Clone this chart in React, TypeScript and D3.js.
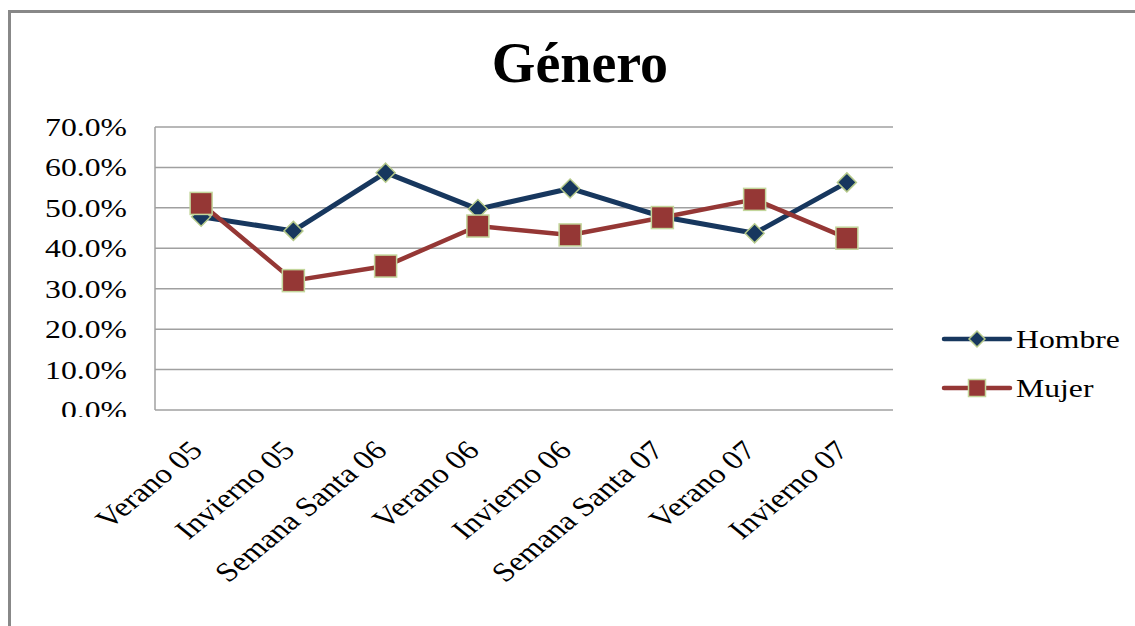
import React, { useEffect, useRef } from 'react';
import * as d3 from 'd3';

const categories = [
  'Verano 05', 'Invierno 05', 'Semana Santa 06', 'Verano 06',
  'Invierno 06', 'Semana Santa 07', 'Verano 07', 'Invierno 07'
];
const hombre = [47.8, 44.3, 58.7, 49.7, 54.8, 47.8, 43.7, 56.3];
const mujer = [51.1, 32.0, 35.6, 45.5, 43.3, 47.6, 52.1, 42.5];
const yTicks = [0, 10, 20, 30, 40, 50, 60, 70];

const HOMBRE_COLOR = '#17375e';
const MUJER_COLOR = '#953735';
const FONT = '"Liberation Serif", "Times New Roman", serif';

const App: React.FC = () => {
  const svgRef = useRef<SVGSVGElement>(null);
  const width = 1135;
  const height = 626;

  useEffect(() => {
    if (!svgRef.current) return;
    const svg = d3.select(svgRef.current);
    svg.selectAll('*').remove();

    const left = 155, right = 893, top = 127, bottom = 410;
    const sx = 1.22; // the original is stretched horizontally

    svg.append('rect').attr('width', width).attr('height', height).attr('fill', '#fff');
    // outer border (left and top visible)
    svg.append('rect')
      .attr('x', 9.5).attr('y', 11.5)
      .attr('width', width + 20).attr('height', height + 20)
      .attr('fill', 'none').attr('stroke', '#888').attr('stroke-width', 3);

    // title
    svg.append('text')
      .attr('x', 580).attr('y', 82)
      .attr('text-anchor', 'middle')
      .attr('font-family', FONT).attr('font-weight', 'bold').attr('font-size', 56)
      .text('Género');

    const x = d3.scaleBand().domain(categories).range([left, right]);
    const y = d3.scaleLinear().domain([0, 70]).range([bottom, top]);
    const cx = (c: string) => (x(c) || 0) + x.bandwidth() / 2;

    // gridlines
    svg.append('g').selectAll('line').data(yTicks).enter().append('line')
      .attr('x1', left).attr('x2', right)
      .attr('y1', d => y(d)).attr('y2', d => y(d))
      .attr('stroke', '#a0a0a0').attr('stroke-width', 1.5);
    svg.append('line')
      .attr('x1', left).attr('x2', left).attr('y1', top).attr('y2', bottom)
      .attr('stroke', '#a0a0a0').attr('stroke-width', 1.5);

    // y labels (0.0% is clipped at the bottom)
    svg.append('clipPath').attr('id', 'yclip')
      .append('rect').attr('x', 0).attr('y', 0).attr('width', 150).attr('height', 417);
    svg.append('g').attr('clip-path', 'url(#yclip)')
      .selectAll('text').data(yTicks).enter().append('text')
      .attr('transform', d => `translate(127,${y(d) + 9}) scale(${sx},1)`)
      .attr('text-anchor', 'end')
      .attr('font-family', FONT).attr('font-size', 26)
      .text(d => d.toFixed(1) + '%');

    // x labels, rotated
    svg.append('g').selectAll('text').data(categories).enter().append('text')
      .attr('transform', d => `translate(${cx(d) + 3},452) scale(${sx},1) rotate(-45)`)
      .attr('text-anchor', 'end')
      .attr('font-family', FONT).attr('font-size', 27)
      .text(d => d);

    const series = [
      { name: 'Hombre', values: hombre, color: HOMBRE_COLOR, marker: 'diamond' },
      { name: 'Mujer', values: mujer, color: MUJER_COLOR, marker: 'square' }
    ];

    const line = d3.line<number>()
      .x((_, i) => cx(categories[i]))
      .y(d => y(d));

    const drawMarker = (g: any, kind: string, color: string, px: number, py: number, s: number) => {
      if (kind === 'diamond') {
        g.append('path')
          .attr('d', `M${px},${py - s}L${px + s},${py}L${px},${py + s}L${px - s},${py}Z`)
          .attr('fill', color).attr('stroke', '#b5c98a').attr('stroke-width', 1.5);
      } else {
        g.append('rect')
          .attr('x', px - s).attr('y', py - s).attr('width', 2 * s).attr('height', 2 * s)
          .attr('fill', color).attr('stroke', '#c3d69b').attr('stroke-width', 1.5);
      }
    };

    series.forEach(s => {
      svg.append('path')
        .datum(s.values)
        .attr('d', line)
        .attr('fill', 'none')
        .attr('stroke', s.color)
        .attr('stroke-width', s.marker === 'diamond' ? 5 : 4.5)
        .attr('stroke-linejoin', 'round');
      const g = svg.append('g');
      s.values.forEach((v, i) => {
        drawMarker(g, s.marker, s.color, cx(categories[i]), y(v), s.marker === 'diamond' ? 9.5 : 11);
      });
    });

    // legend
    series.forEach((s, i) => {
      const ly = 339 + i * 49;
      const g = svg.append('g');
      g.append('line')
        .attr('x1', 944).attr('x2', 1010).attr('y1', ly).attr('y2', ly)
        .attr('stroke', s.color).attr('stroke-width', 4.5).attr('stroke-linecap', 'round');
      drawMarker(g, s.marker, s.color, 977, ly, s.marker === 'diamond' ? 8 : 8.5);
      g.append('text')
        .attr('transform', `translate(1016,${ly + 9}) scale(${sx},1)`)
        .attr('font-family', FONT).attr('font-size', 26)
        .text(s.name);
    });
  }, []);

  return (
    <svg
      ref={svgRef}
      width={width}
      height={height}
      style={{ position: 'absolute', left: 0, top: 0 }}
    />
  );
};

export default App;
